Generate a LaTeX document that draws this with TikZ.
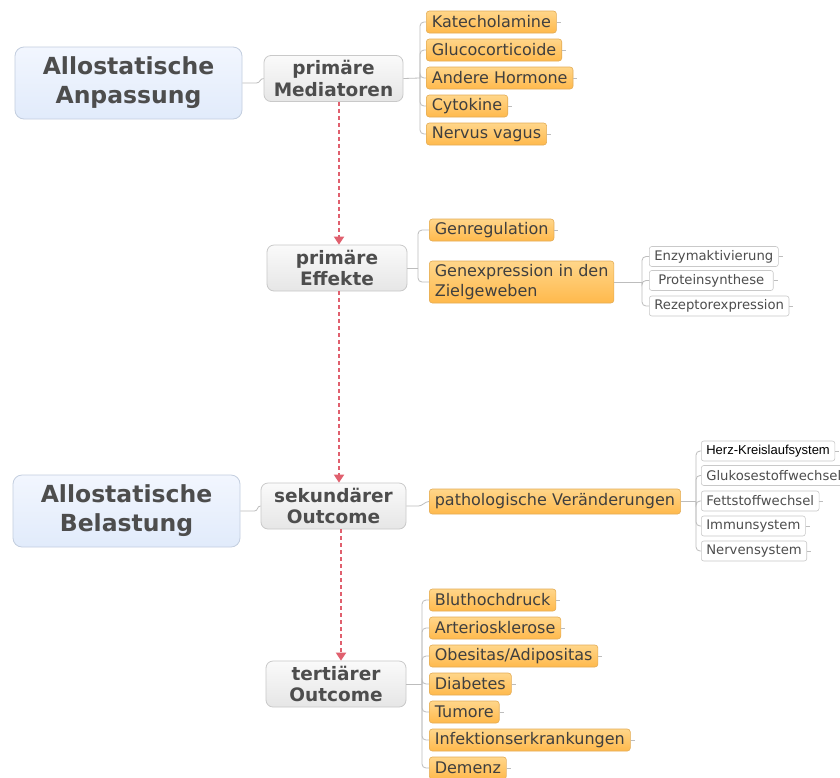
\documentclass[tikz,border=0pt]{standalone}
\usepackage{fontspec}
\setmainfont{DejaVu Sans}
\newfontfamily\plainsans{Liberation Sans}
\usetikzlibrary{arrows.meta}
\definecolor{orfill1}{HTML}{FFD68A}
\definecolor{orfill2}{HTML}{FFB94C}
\definecolor{ordraw}{HTML}{E3AC55}
\definecolor{gyfill1}{HTML}{FAFAFA}
\definecolor{gyfill2}{HTML}{E6E6E6}
\definecolor{gydraw}{HTML}{C9C9C9}
\definecolor{blfill1}{HTML}{F2F6FE}
\definecolor{blfill2}{HTML}{E1EBFB}
\definecolor{bldraw}{HTML}{C3CEDF}
\definecolor{txt}{HTML}{3F3F3F}
\definecolor{txtb}{HTML}{4D4D4D}
\definecolor{lnk}{HTML}{BDBDBD}
\definecolor{flow}{HTML}{E0606E}
\tikzset{
  x=1pt, y=-1pt,
  bigbox/.style={draw=bldraw, top color=blfill1, bottom color=blfill2, rounded corners=9,
    line width=0.8, align=center, text=txtb, font=\fontsize{23.5}{29}\selectfont\bfseries,
    minimum width=227, minimum height=72, inner sep=0},
  stagebox/.style={draw=gydraw, top color=gyfill1, bottom color=gyfill2, rounded corners=7,
    line width=0.8, align=center, text=txtb, font=\fontsize{18.5}{21.5}\selectfont\bfseries,
    minimum height=46, inner sep=0},
  orbox/.style={draw=ordraw, top color=orfill1, bottom color=orfill2, rounded corners=3,
    line width=0.6, anchor=west, text=txt, font=\fontsize{16}{20}\selectfont,
    minimum height=22, inner xsep=5.5, inner ysep=0, align=left},
  wbox/.style={draw=gydraw, fill=white, rounded corners=2.5, line width=0.6, anchor=west,
    text=txtb, font=\fontsize{13.2}{15}\selectfont, minimum height=20, inner xsep=5, inner ysep=0},
  conn/.style={draw=lnk, line width=0.8, rounded corners=4},
  stub/.style={draw=lnk, line width=0.7},
  flowarrow/.style={draw=flow, line width=1.8, dash pattern=on 4 off 3,
    -{Triangle[width=10,length=8]}, flow},
}
\begin{document}
\begin{tikzpicture}
\useasboundingbox[fill=white] (0,0) rectangle (840,777);

% main stages
\node[bigbox] (anp) at (128.5,83) {Allostatische\\Anpassung};
\node[bigbox] (bel) at (126.5,511) {Allostatische\\Belastung};
\node[stagebox, minimum width=139] (med) at (333.5,78.5) {primäre\\Mediatoren};
\node[stagebox, minimum width=140] (eff) at (337,268) {primäre\\Effekte};
\node[stagebox, minimum width=145] (sek) at (333.5,506) {sekundärer\\Outcome};
\node[stagebox, minimum width=140] (ter) at (336,684) {tertiärer\\Outcome};

% side links of the two large boxes
\draw[conn, rounded corners=0] (anp.east) -- ++(14,0) .. controls +(4,0) and +(-4,0) .. (med.west);
\draw[conn, rounded corners=0] (bel.east) -- ++(14,0) .. controls +(4,0) and +(-4,0) .. (sek.west);

% flow between the stages
\draw[flowarrow] ([xshift=5.5]med.south) -- ([xshift=2]eff.north);
\draw[flowarrow] ([xshift=2]eff.south) -- ([xshift=5.5]sek.north);
\draw[flowarrow] ([xshift=7.5]sek.south) -- ([xshift=5]ter.north);

% primary mediators
\node[orbox] (m1) at (426,22) {Katecholamine};
\node[orbox] (m2) at (426,50) {Glucocorticoide};
\node[orbox] (m3) at (426,78) {Andere Hormone};
\node[orbox] (m4) at (426,106) {Cytokine};
\node[orbox] (m5) at (426,134) {Nervus vagus};
\coordinate (mj) at (420,78);
\draw[conn] (med.east) -- (mj);
\foreach \c in {m1,m2,m3,m4,m5}{
  \draw[conn] (mj) |- (\c.west);
  \draw[stub] (\c.east) -- ++(4,0);
}

% primary effects
\node[orbox] (e1) at (429,230) {Genregulation};
\node[orbox, minimum height=42] (e2) at (429,282) {Genexpression in den\\Zielgeweben};
\coordinate (ej) at (418,268);
\draw[conn] (eff.east) -- (ej);
\foreach \c in {e1,e2}{
  \draw[conn] (ej) |- (\c.west);
}
\draw[stub] (e1.east) -- ++(4,0);

\node[wbox] (g1) at (649,256.5) {Enzymaktivierung};
\node[wbox, inner xsep=9] (g2) at (649,280.5) {Proteinsynthese};
\node[wbox] (g3) at (649,306) {Rezeptorexpression};
\coordinate (gj) at (642,282);
\draw[conn] (e2.east) -- (gj);
\foreach \c in {g1,g2,g3}{
  \draw[conn] (gj) |- (\c.west);
  \draw[stub] (\c.east) -- ++(4,0);
}

% secondary outcome
\node[orbox, minimum height=25] (p) at (429,501.5) {pathologische Veränderungen};
\draw[conn, rounded corners=0] (sek.east) -- ++(12,0) .. controls +(4,0) and +(-4,0) .. (p.west);
\node[wbox, text=black, font=\plainsans\fontsize{13}{15}\selectfont] (s1) at (701,451) {Herz-Kreislaufsystem};
\node[wbox] (s2) at (701,475.5) {Glukosestoffwechsel};
\node[wbox] (s3) at (701,501) {Fettstoffwechsel};
\node[wbox] (s4) at (701,526) {Immunsystem};
\node[wbox] (s5) at (701,551) {Nervensystem};
\coordinate (sj) at (696,501.5);
\draw[conn] (p.east) -- (sj);
\foreach \c in {s1,s2,s3,s4,s5}{
  \draw[conn] (sj) |- (\c.west);
  \draw[stub] (\c.east) -- ++(4,0);
}

% tertiary outcome
\node[orbox] (t1) at (429,600) {Bluthochdruck};
\node[orbox] (t2) at (429,628) {Arteriosklerose};
\node[orbox] (t3) at (429,656) {Obesitas/Adipositas};
\node[orbox] (t4) at (429,684) {Diabetes};
\node[orbox] (t5) at (429,712) {Tumore};
\node[orbox] (t6) at (429,740) {Infektionserkrankungen};
\node[orbox] (t7) at (429,768) {Demenz};
\coordinate (tj) at (422,684);
\draw[conn] (ter.east) -- (tj);
\foreach \c in {t1,t2,t3,t4,t5,t6,t7}{
  \draw[conn] (tj) |- (\c.west);
  \draw[stub] (\c.east) -- ++(4,0);
}
\end{tikzpicture}
\end{document}
